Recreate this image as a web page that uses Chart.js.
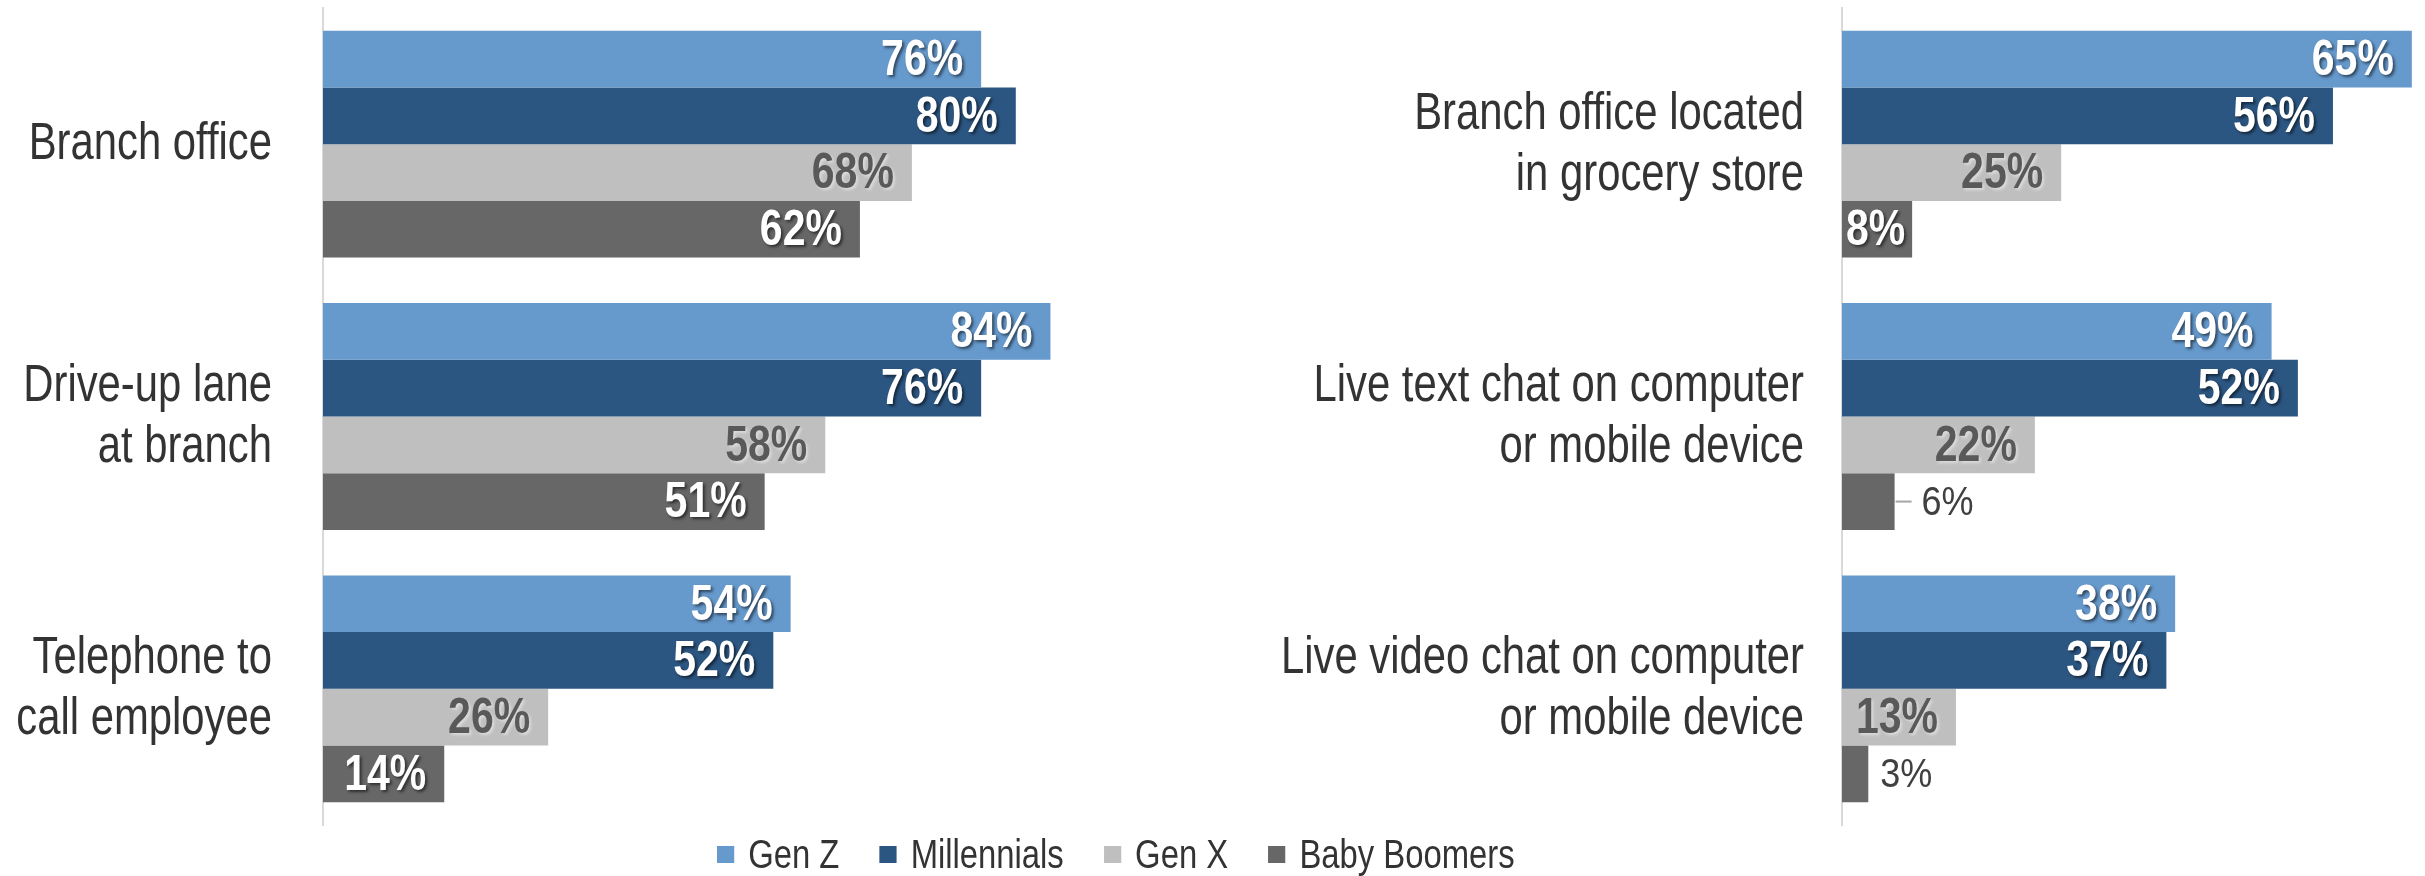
<!DOCTYPE html>
<html>
<head>
<meta charset="utf-8">
<script src="https://cdn.jsdelivr.net/npm/chart.js@4.4.1/dist/chart.umd.min.js"></script>
<style>
  html, body { margin: 0; padding: 0; background: #fff; }
  #wrap { position: relative; width: 2425px; height: 876px; overflow: hidden; }
  #leftChart { position: absolute; left: 0; top: 0; }
  #rightChart { position: absolute; left: 1200px; top: 0; }
  /* narrow type: Liberation Sans squeezed horizontally */
  #legend {
    position: absolute; left: 717px; top: 832px; height: 44px;
    display: flex; align-items: center; white-space: nowrap;
    transform: scaleX(0.82); transform-origin: 0 0;
    font-family: 'Liberation Sans', Arial, sans-serif;
    font-size: 40px; color: #333;
  }
  #legend .item { display: flex; align-items: center; margin-right: 49px; }
  #legend .box { width: 21px; height: 17px; margin-right: 17px; }
</style>
</head>
<body>
<div id="wrap">
  <canvas id="leftChart" width="1200" height="876"></canvas>
  <canvas id="rightChart" width="1225" height="876"></canvas>
  <div id="legend"></div>
</div>
<script>
const FONT = "'Liberation Sans', Arial, sans-serif";
const SQUEEZE = 0.82;

const seriesNames = ['Gen Z', 'Millennials', 'Gen X', 'Baby Boomers'];
const seriesColors = ['#6699cc', '#2c5682', '#bfbfbf', '#676767'];

const leftCategories = [
  ['Branch office'],
  ['Drive-up lane', 'at branch'],
  ['Telephone to', 'call employee']
];
const leftGenZ = [76, 84, 54];
const leftMillennials = [80, 76, 52];
const leftGenX = [68, 58, 26];
const leftBoomers = [62, 51, 14];

const rightCategories = [
  ['Branch office located', 'in grocery store'],
  ['Live text chat on computer', 'or mobile device'],
  ['Live video chat on computer', 'or mobile device']
];
const rightGenZ = [65, 49, 38];
const rightMillennials = [56, 52, 37];
const rightGenX = [25, 22, 13];
const rightBoomers = [8, 6, 3];

// draw text squeezed horizontally around (x, y)
function narrowText(ctx, text, x, y, align, squeeze) {
  const sq = squeeze || SQUEEZE;
  const w = ctx.measureText(text).width * sq;
  let left = x;
  if (align === 'right') left = x - w;
  ctx.save();
  ctx.translate(left, y);
  ctx.scale(sq, 1);
  ctx.textAlign = 'left';
  ctx.fillText(text, 0, 0);
  ctx.restore();
  return w;
}

// category names to the left of the axis line
const categoryLabels = {
  id: 'categoryLabels',
  afterDraw(chart, args, opts) {
    const ctx = chart.ctx;
    const y = chart.scales.y;
    ctx.save();
    ctx.font = '51px ' + FONT;
    ctx.fillStyle = '#333';
    ctx.textBaseline = 'middle';
    chart.data.labels.forEach((lines, i) => {
      const yc = y.getPixelForValue(i);
      lines.forEach((line, j) => {
        const ly = yc + (j - (lines.length - 1) / 2) * 61;
        narrowText(ctx, line, y.right - opts.padding, ly + 1, 'right');
      });
    });
    ctx.restore();
  }
};

// percent labels: inside the bar end when they fit, otherwise just outside
const barLabels = {
  id: 'barLabels',
  afterDatasetsDraw(chart) {
    const ctx = chart.ctx;
    chart.data.datasets.forEach((ds, di) => {
      const meta = chart.getDatasetMeta(di);
      meta.data.forEach((bar, i) => {
        const text = ds.data[i] + '%';
        const start = bar.base;
        const end = bar.x;
        const width = end - start;
        ctx.save();
        ctx.textBaseline = 'middle';
        ctx.font = 'bold 50px ' + FONT;
        const tw = ctx.measureText(text).width * SQUEEZE;
        if (tw + 4 <= width) {
          const right = Math.max(end - 18, start + tw + 4);
          if (di === 2) {
            ctx.fillStyle = '#595959';
            ctx.shadowColor = 'rgba(255,255,255,0.45)';
          } else {
            ctx.fillStyle = '#ffffff';
            ctx.shadowColor = 'rgba(0,0,0,0.55)';
          }
          ctx.shadowOffsetX = 2;
          ctx.shadowOffsetY = 2;
          ctx.shadowBlur = 3;
          narrowText(ctx, text, right, bar.y + 2, 'right');
        } else {
          ctx.font = '40px ' + FONT;
          ctx.fillStyle = '#404040';
          const withLeader = width >= 40;
          const gap = withLeader ? 27 : 12;
          if (withLeader) {
            ctx.strokeStyle = '#a6a6a6';
            ctx.lineWidth = 2;
            ctx.beginPath();
            ctx.moveTo(end + 1, bar.y);
            ctx.lineTo(end + 17, bar.y);
            ctx.stroke();
          }
          narrowText(ctx, text, end + gap, bar.y + 2, 'left', 0.9);
        }
        ctx.restore();
      });
    });
  }
};

function makeDatasets(values) {
  return values.map((data, k) => ({
    label: seriesNames[k],
    data: data,
    backgroundColor: seriesColors[k],
    borderWidth: 0,
    barPercentage: 1,
    categoryPercentage: 0.833
  }));
}

function makeChart(canvasId, labels, values, xMax, axisWidth, labelPad, rightPad) {
  return new Chart(document.getElementById(canvasId), {
    type: 'bar',
    data: { labels: labels, datasets: makeDatasets(values) },
    options: {
      indexAxis: 'y',
      responsive: false,
      animation: false,
      devicePixelRatio: 1,
      layout: { padding: { top: 8, bottom: 51, left: 0, right: rightPad } },
      plugins: {
        legend: { display: false },
        tooltip: { enabled: false },
        categoryLabels: { padding: labelPad }
      },
      scales: {
        x: { display: false, min: 0, max: xMax },
        y: {
          grid: { display: false },
          border: { display: true, color: '#d9d9d9', width: 2 },
          ticks: { display: false },
          afterFit(scale) { scale.width = axisWidth; }
        }
      }
    },
    plugins: [categoryLabels, barLabels]
  });
}

makeChart('leftChart', leftCategories,
  [leftGenZ, leftMillennials, leftGenX, leftBoomers], 100, 323, 51, 11);
makeChart('rightChart', rightCategories,
  [rightGenZ, rightMillennials, rightGenX, rightBoomers], 66.5, 642, 38, 0);

// legend row under both panels
const legend = document.getElementById('legend');
seriesNames.forEach((name, k) => {
  const item = document.createElement('div');
  item.className = 'item';
  const box = document.createElement('span');
  box.className = 'box';
  box.style.background = seriesColors[k];
  const txt = document.createElement('span');
  txt.textContent = name;
  item.appendChild(box);
  item.appendChild(txt);
  legend.appendChild(item);
});
</script>
</body>
</html>
